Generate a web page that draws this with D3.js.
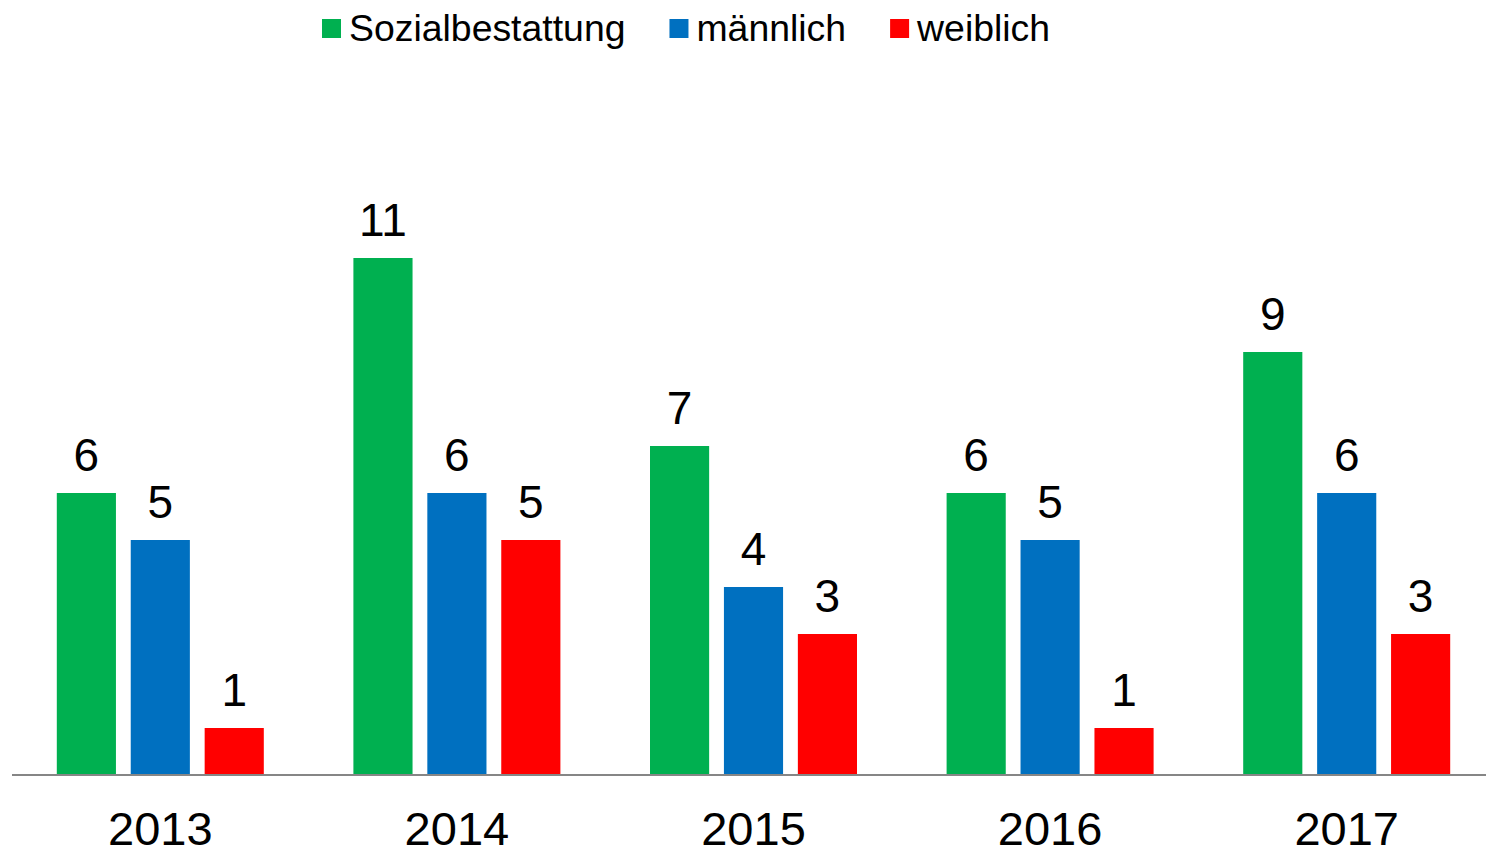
<!DOCTYPE html>
<html>
<head>
<meta charset="utf-8">
<script src="https://cdn.jsdelivr.net/npm/d3@7/dist/d3.min.js"></script>
<style>
	html, body { margin: 0; padding: 0; background: #fff; }
	svg { display: block; font-family: "Liberation Sans", Arial, sans-serif; }
</style>
</head>
<body>
<div id="chart"></div>
<script>
var years = ['2013', '2014', '2015', '2016', '2017'];
var seriesNames = ['Sozialbestattung', 'männlich', 'weiblich'];
var seriesColors = ['#00B050', '#0070C0', '#FF0000'];
var sozialbestattung = [6, 11, 7, 6, 9];
var maennlich = [5, 6, 4, 5, 6];
var weiblich = [1, 5, 3, 1, 3];

var seriesValues = [sozialbestattung, maennlich, weiblich];

var width = 1486, height = 852;

var svg = d3.select('#chart')
	.append('svg')
	.attr('width', width)
	.attr('height', height);

// scales
var x0 = d3.scaleBand()
	.domain(years)
	.range([12, 1495])
	.paddingInner(0)
	.paddingOuter(0);

var x1 = d3.scaleBand()
	.domain(d3.range(seriesNames.length))
	.range([44.8, x0.bandwidth() - 44.8])
	.paddingInner(0.2)
	.paddingOuter(0);

var y = d3.scaleLinear()
	.domain([0, 11])
	.range([775, 258]);

// bars
var groups = svg.append('g')
	.selectAll('g')
	.data(years)
	.join('g')
	.attr('transform', function(d) { return 'translate(' + x0(d) + ',0)'; });

groups.selectAll('rect')
	.data(function(d, i) {
		return seriesValues.map(function(vals, s) { return { s: s, value: vals[i] }; });
	})
	.join('rect')
	.attr('x', function(d) { return x1(d.s); })
	.attr('y', function(d) { return y(d.value); })
	.attr('width', x1.bandwidth())
	.attr('height', function(d) { return y(0) - y(d.value); })
	.attr('fill', function(d) { return seriesColors[d.s]; });

// value labels
groups.selectAll('text')
	.data(function(d, i) {
		return seriesValues.map(function(vals, s) { return { s: s, value: vals[i] }; });
	})
	.join('text')
	.attr('x', function(d) { return x1(d.s) + x1.bandwidth() / 2; })
	.attr('y', function(d) { return y(d.value) - 22; })
	.attr('text-anchor', 'middle')
	.attr('font-size', 46)
	.attr('fill', '#000')
	.text(function(d) { return d.value; });

// x axis
var xAxis = svg.append('g')
	.attr('transform', 'translate(0,' + y(0) + ')')
	.call(d3.axisBottom(x0).tickSize(0).tickPadding(0));

xAxis.select('.domain')
	.attr('d', 'M12,0H' + width)
	.attr('stroke', '#868686')
	.attr('stroke-width', 2);

xAxis.selectAll('text')
	.attr('dy', null)
	.attr('y', 70)
	.attr('font-size', 47)
	.attr('font-family', '"Liberation Sans", Arial, sans-serif')
	.attr('fill', '#000');

// legend
var legend = svg.append('g');
var lx = 322;
seriesNames.forEach(function(name, i) {
	legend.append('rect')
		.attr('x', lx)
		.attr('y', 19)
		.attr('width', 19)
		.attr('height', 19)
		.attr('fill', seriesColors[i]);
	var t = legend.append('text')
		.attr('x', lx + 27)
		.attr('y', 41)
		.attr('font-size', 37.4)
		.attr('fill', '#000')
		.text(name);
	lx += 27 + t.node().getComputedTextLength() + 44;
});
</script>
</body>
</html>
